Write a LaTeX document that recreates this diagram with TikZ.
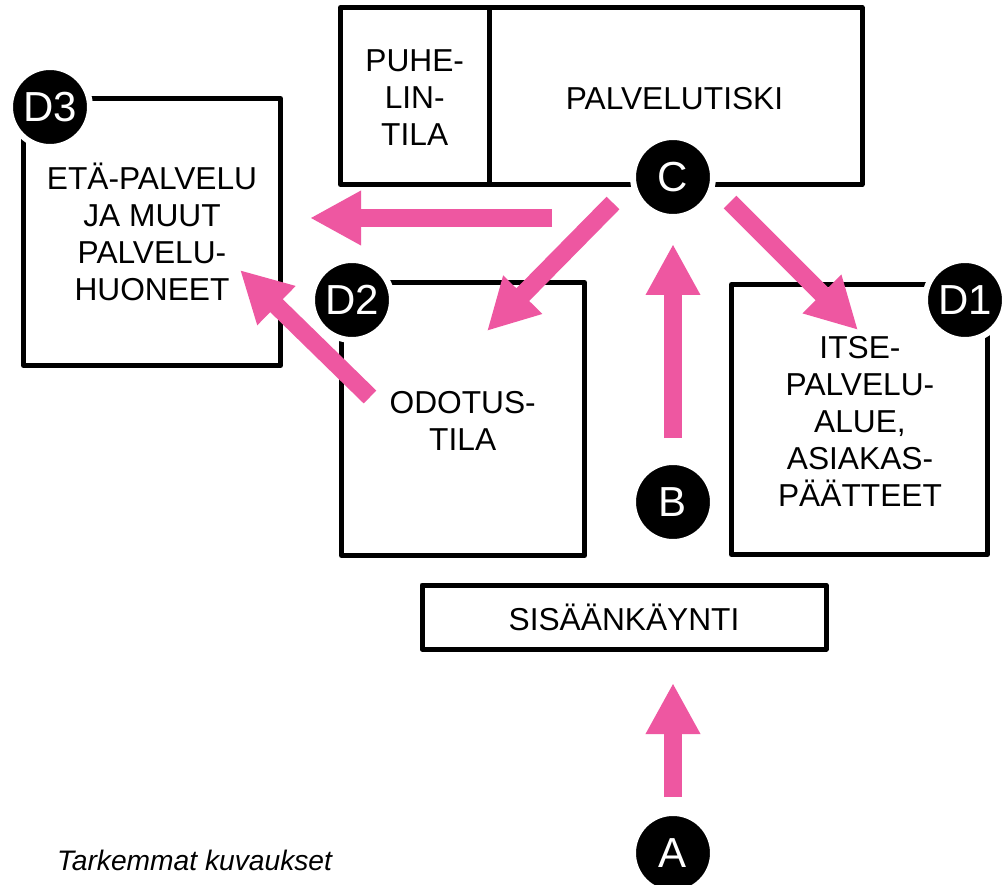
\documentclass[tikz,border=0pt]{standalone}
\usepackage{fontspec}
\setmainfont{Liberation Sans}
\usetikzlibrary{arrows.meta,calc}
\definecolor{pinkarrow}{RGB}{238,87,161}
\begin{document}
\begin{tikzpicture}[x=1pt,y=-1pt,
  room/.style={draw=black, line width=5pt, line join=round, rectangle, inner sep=0pt, outer sep=0pt},
  lbl/.style={font=\fontsize{31.7}{37}\selectfont, align=center, inner sep=0pt},
  badge/.style={circle, fill=black, draw=white, line width=6pt, minimum size=80pt, inner sep=0pt, outer sep=0pt, text=white, font=\fontsize{42}{42}\selectfont},
  arr/.style={draw=pinkarrow, line width=18pt, -{Triangle[width=51pt,length=51pt]}}
]
\useasboundingbox[fill=white] (0,0) rectangle (1002,885);

% rooms
\node[room, minimum width=257pt, minimum height=267pt] (d3) at (152,232) {};
\node[room, minimum width=148.5pt, minimum height=177pt] (puhe) at (414.75,96) {};
\node[room, minimum width=373pt, minimum height=177pt] (palv) at (675.5,96) {};
\node[room, minimum width=243pt, minimum height=273pt] (d2) at (463,419) {};
\node[room, minimum width=256pt, minimum height=270pt] (d1) at (859.5,419.5) {};
\node[room, minimum width=404pt, minimum height=64pt] (sis) at (624,617) {};

% labels
\node[lbl] (d3t) at (152,237.3) {\strut ETÄ-PALVELU\\JA MUUT\\PALVELU-\\HUONEET\strut};
\node[lbl] (puhet) at (414.7,101.5) {\strut PUHE-\\LIN-\\TILA\strut};
\node[lbl, anchor=base] (palvt) at (674.5,109.5) {PALVELUTISKI};
\node[lbl] (d2t) at (462.7,424.5) {\strut ODOTUS-\\TILA\strut};
\node[lbl] (d1t) at (860,424.8) {\strut ITSE-\\PALVELU-\\ALUE,\\ASIAKAS-\\PÄÄTTEET\strut};
\node[lbl, anchor=base] (sist) at (624,630.5) {SISÄÄNKÄYNTI};
\node[anchor=base west, inner sep=0pt, font=\fontsize{28.2}{32}\selectfont\itshape] (note) at (57,870) {Tarkemmat kuvaukset};

% badges
\node[badge] (D3c) at (50,107) {D3};
\node[badge] (D2c) at (352,300) {D2};
\node[badge] (D1c) at (965,300) {D1};
\node[badge] (C) at (673,177) {C};
\node[badge] (B) at (673,502) {B};
\node[badge] (A) at (673,853) {A};

% arrows
\draw[arr, shorten <=16pt, shorten >=34pt] (A) -- (A |- sis.south);
\draw[arr, shorten <=24pt, shorten >=27pt] (B) -- (C);
\coordinate (cd3s) at (552,218);
\draw[arr, shorten >=29.5pt] (cd3s) -- (cd3s -| d3.east);
\coordinate (cd2s) at (613,203);
\coordinate (cd2e) at (487,331);
\draw[arr] (cd2s) -- (cd2e);
\coordinate (cd1s) at (730,202);
\coordinate (cd1e) at (858,330);
\draw[arr] (cd1s) -- (cd1e);
\coordinate (d2d3s) at (370,397);
\coordinate (d2d3e) at (240,270);
\draw[arr] (d2d3s) -- (d2d3e);
\end{tikzpicture}
\end{document}
